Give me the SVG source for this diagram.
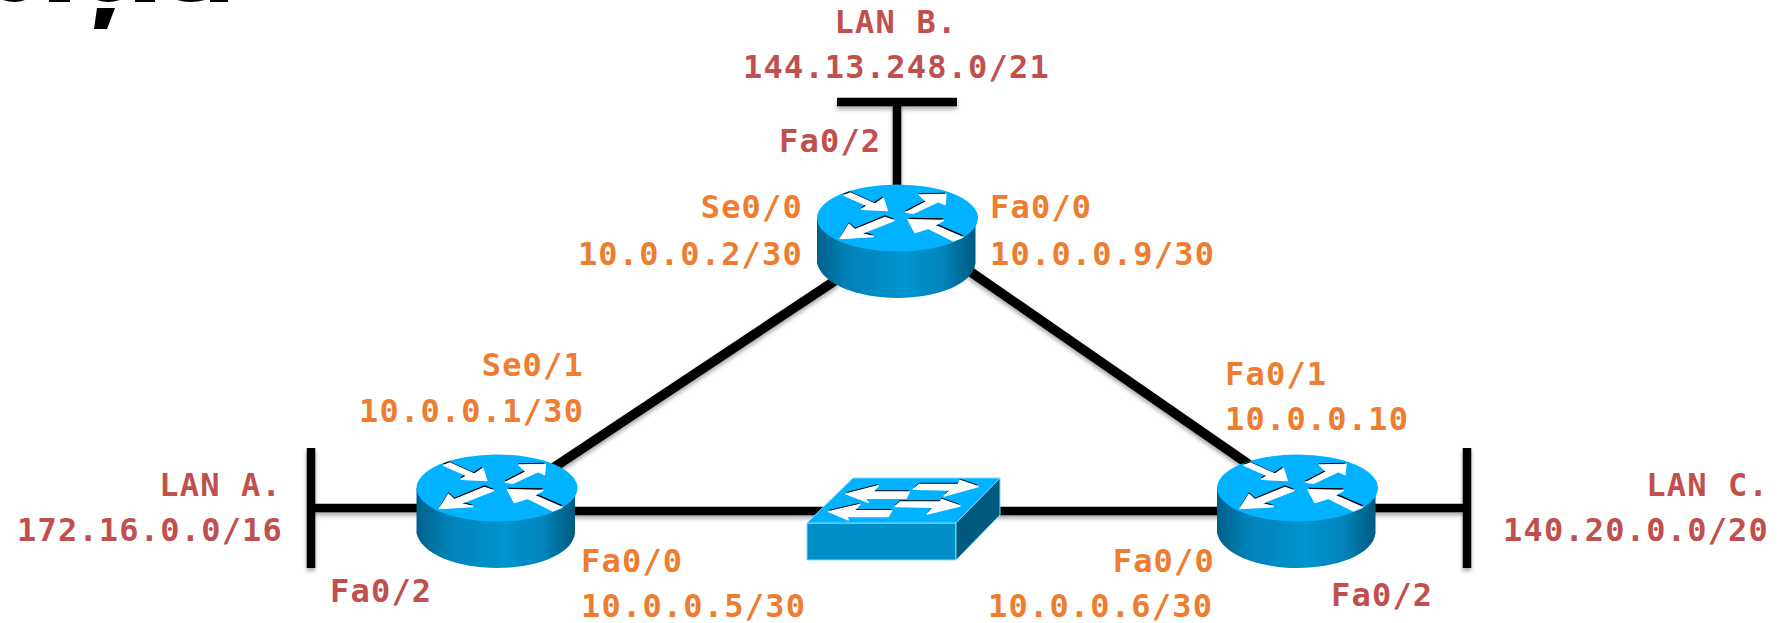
<svg xmlns="http://www.w3.org/2000/svg" width="1779" height="623" viewBox="0 0 1779 623">
<style>
text{font-family:"DejaVu Sans Mono","Liberation Mono",monospace;font-weight:700;font-size:32px;letter-spacing:1.2px}
.o{fill:#ed7d31}.r{fill:#c0504d}.e{text-anchor:end}.m{text-anchor:middle}
.w{stroke:#000;stroke-width:8.500;fill:none}
.d{stroke:#000;stroke-width:9.500;fill:none}
.b{fill:#000}.a{fill:#fff;stroke:#fff;stroke-width:4;stroke-linejoin:round}
</style>
<defs>
<linearGradient id="side" x1="0" x2="1" y1="0" y2="0">
<stop offset="0" stop-color="#005f8a"/><stop offset=".18" stop-color="#0080b4"/><stop offset=".55" stop-color="#0094d0"/><stop offset=".8" stop-color="#0084ba"/><stop offset="1" stop-color="#005a80"/>
</linearGradient>
<filter id="sh" x="-5%" y="-5%" width="110%" height="110%"><feDropShadow dx="0" dy="3" stdDeviation="2" flood-color="#000" flood-opacity=".35"/></filter>
<path id="ra1" d="M192 106L212 99L285 132L310 115L322 152L245 148L262 137Z"/>
<path id="ra2" d="M378 157L440 125L418 105L498 103L495 134L475 125L400 160Z"/>
<path id="ra3" d="M342 182L315 172L225 209L207 193L180 236L280 230L245 220Z"/>
<path id="ra4" d="M384 179L490 181L465 196L548 232L520 243L445 205L405 218Z"/>
<g id="rarrows" transform="translate(-117.500,-58) scale(.3333)">
<use href="#ra1" class="b" x="-3" y="-5"/><use href="#ra2" class="b" x="-3" y="-5"/><use href="#ra3" class="b" x="0" y="-6"/><use href="#ra4" class="b" x="2" y="-6"/>
<use href="#ra1" class="a"/><use href="#ra2" class="a"/><use href="#ra3" class="a"/><use href="#ra4" class="a"/>
</g>
<g id="router">
<path d="M-80.500 0V45C-76 66-40 80 0 80S76 66 78 45V0Z" fill="url(#side)"/>
<ellipse rx="80.500" ry="33.500" fill="#00b2ff"/>
<use href="#rarrows"/>
</g>
<path id="sa1" d="M198 132L295 107L278 126L388 126L378 145L255 145L265 157Z"/>
<path id="sa2" d="M400 118L418 103L535 103L540 91L595 110L492 138L512 120Z"/>
<path id="sa3" d="M146 185L240 163L222 182L335 182L325 200L200 200L205 210Z"/>
<path id="sa4" d="M345 170L360 156H480L485 148L540 168L442 192L460 172Z"/>
</defs>
<rect width="1779" height="623" fill="#fff"/>
<g id="title-fragment" fill="#000">
<path d="M97 8H115L107 29H94Z"/>
<path d="M3 0H25Q15 4 3 0ZM49 0H70V2H49ZM97 0H120Q108 4 97 0ZM135 0H155V2H135ZM177 0H205Q190 4 177 0ZM210 0H228V2H210Z"/>
</g>
<g id="connectors" filter="url(#sh)">
<path class="w" d="M311 448V568M311 508H425"/>
<path class="w" d="M570 511H1225"/>
<path class="w" d="M1370 508H1467M1467 448V568"/>
<path class="w" d="M837 102H957M897 102V190"/>
<path class="d" d="M836 280L553 468"/>
<path class="d" d="M968 270L1254 468"/>
</g>
<g id="router-b"><use href="#router" x="897.500" y="218"/></g>
<g id="router-a"><use href="#router" x="497" y="488"/></g>
<g id="router-c"><use href="#router" x="1297.500" y="488"/></g>
<g id="switch">
<path d="M807 523H956V560H807Z" fill="#008fc8" stroke="#7fdcff"/>
<path d="M807 523L853 478H1000L956 523Z" fill="#00b2ff" stroke="#7fdcff"/>
<path d="M956 523L1000 478V515L956 560Z" fill="#005a80" stroke="#7fdcff"/>
<g transform="translate(780,450) scale(.3333)">
<use href="#sa1" class="b" y="-5"/><use href="#sa2" class="b" y="-5"/><use href="#sa3" class="b" y="-5"/><use href="#sa4" class="b" y="-5"/>
<use href="#sa1" class="a"/><use href="#sa2" class="a"/><use href="#sa3" class="a"/><use href="#sa4" class="a"/>
</g>
</g>
<g id="labels">
<text class="r m" x="896" y="33">LAN B.</text>
<text class="r" x="743" y="78">144.13.248.0/21</text>
<text class="r" x="779" y="152">Fa0/2</text>
<text class="o e" x="803" y="218">Se0/0</text>
<text class="o e" x="803" y="265">10.0.0.2/30</text>
<text class="o" x="990" y="218">Fa0/0</text>
<text class="o" x="990" y="265">10.0.0.9/30</text>
<text class="o e" x="584" y="376">Se0/1</text>
<text class="o" x="359" y="422">10.0.0.1/30</text>
<text class="o" x="1225" y="385">Fa0/1</text>
<text class="o" x="1225" y="430">10.0.0.10</text>
<text class="r e" x="282" y="496">LAN A.</text>
<text class="r" x="17" y="541">172.16.0.0/16</text>
<text class="r" x="330" y="602">Fa0/2</text>
<text class="o" x="581" y="572">Fa0/0</text>
<text class="o" x="581" y="617">10.0.0.5/30</text>
<text class="o e" x="1215" y="572">Fa0/0</text>
<text class="o" x="988" y="617">10.0.0.6/30</text>
<text class="r" x="1331" y="606">Fa0/2</text>
<text class="r e" x="1769" y="496">LAN C.</text>
<text class="r" x="1503" y="541">140.20.0.0/20</text>
</g>
</svg>
